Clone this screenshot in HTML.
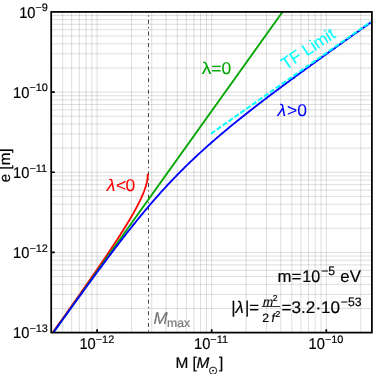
<!DOCTYPE html>
<html><head><meta charset="utf-8"><title>plot</title>
<style>html,body{margin:0;padding:0;background:#fff;}body{width:374px;height:374px;overflow:hidden;}svg{display:block;will-change:transform;}text{text-rendering:geometricPrecision;font-family:"Liberation Sans",sans-serif;}</style></head><body>
<svg width="374" height="374" viewBox="0 0 374 374">
<rect x="0" y="0" width="374" height="374" fill="#fff"/>
<defs><clipPath id="cp"><rect x="51.20" y="11.90" width="320.70" height="320.70"/></clipPath></defs>
<path d="M62.60 11.90V332.60M71.68 11.90V332.60M79.35 11.90V332.60M85.99 11.90V332.60M91.86 11.90V332.60M97.10 11.90V332.60M131.60 11.90V332.60M151.78 11.90V332.60M166.10 11.90V332.60M177.20 11.90V332.60M186.28 11.90V332.60M193.95 11.90V332.60M200.59 11.90V332.60M206.46 11.90V332.60M211.70 11.90V332.60M246.20 11.90V332.60M266.38 11.90V332.60M280.70 11.90V332.60M291.80 11.90V332.60M300.88 11.90V332.60M308.55 11.90V332.60M315.19 11.90V332.60M321.06 11.90V332.60M326.30 11.90V332.60M360.80 11.90V332.60" stroke="#000" stroke-opacity="0.17" stroke-width="0.80" fill="none"/>
<path d="M51.20 308.46H371.90M51.20 294.35H371.90M51.20 284.33H371.90M51.20 276.56H371.90M51.20 270.21H371.90M51.20 264.84H371.90M51.20 260.19H371.90M51.20 256.09H371.90M51.20 252.43H371.90M51.20 228.29H371.90M51.20 214.17H371.90M51.20 204.15H371.90M51.20 196.39H371.90M51.20 190.04H371.90M51.20 184.67H371.90M51.20 180.02H371.90M51.20 175.92H371.90M51.20 172.25H371.90M51.20 148.11H371.90M51.20 134.00H371.90M51.20 123.98H371.90M51.20 116.21H371.90M51.20 109.86H371.90M51.20 104.49H371.90M51.20 99.84H371.90M51.20 95.74H371.90M51.20 92.08H371.90M51.20 67.94H371.90M51.20 53.82H371.90M51.20 43.80H371.90M51.20 36.04H371.90M51.20 29.69H371.90M51.20 24.32H371.90M51.20 19.67H371.90M51.20 15.57H371.90" stroke="#000" stroke-opacity="0.17" stroke-width="0.80" fill="none"/>
<path d="M148.5 11.90V332.60" stroke="#444" stroke-width="1" stroke-dasharray="4 3.18 1.3 3.18" stroke-dashoffset="3.76" fill="none"/>
<g clip-path="url(#cp)" fill="none" stroke-width="1.85" stroke-linejoin="round">
<path d="M45.90 342.15L47.73 339.58L49.49 337.10L51.20 334.70L52.84 332.39L54.44 330.15L55.98 327.98L57.47 325.87L58.92 323.83L60.33 321.85L61.70 319.92L63.03 318.04L64.32 316.22L65.58 314.44L66.81 312.70L68.00 311.01L69.17 309.36L70.31 307.75L71.42 306.17L72.51 304.63L73.57 303.12L74.61 301.65L75.63 300.20L76.63 298.79L77.60 297.41L78.56 296.05L79.49 294.72L80.41 293.41L81.31 292.13L82.19 290.87L83.06 289.63L83.91 288.42L84.74 287.23L85.56 286.06L86.37 284.90L87.16 283.77L87.94 282.66L88.70 281.56L89.45 280.48L90.19 279.42L90.92 278.37L91.64 277.34L92.34 276.33L93.03 275.33L93.72 274.34L94.39 273.37L95.05 272.42L95.70 271.47L96.34 270.54L96.98 269.62L97.60 268.72L98.22 267.82L98.82 266.94L99.42 266.07L100.01 265.21L100.59 264.36L101.16 263.53L101.73 262.70L102.29 261.88L102.84 261.07L103.38 260.28L103.92 259.49L104.45 258.71L104.97 257.94L105.49 257.18L106.00 256.42L106.50 255.68L107.00 254.94L107.49 254.21L107.97 253.49L108.45 252.78L108.93 252.08L109.39 251.38L109.85 250.69L110.31 250.01L110.76 249.33L111.21 248.66L111.65 248.00L112.08 247.35L112.52 246.70L112.94 246.05L113.36 245.42L113.78 244.79L114.19 244.16L114.60 243.55L115.00 242.93L115.40 242.33L115.79 241.73L116.18 241.13L116.56 240.54L116.95 239.96L117.32 239.38L117.70 238.80L118.06 238.23L118.43 237.67L118.79 237.11L119.15 236.56L119.50 236.01L119.85 235.46L120.20 234.92L120.54 234.39L120.88 233.86L121.21 233.33L121.54 232.81L121.87 232.29L122.20 231.78L122.52 231.27L122.84 230.76L123.15 230.26L123.47 229.76L123.77 229.27L124.08 228.78L124.38 228.29L124.68 227.81L124.98 227.33L125.27 226.86L125.56 226.39L125.85 225.92L126.14 225.45L126.42 224.99L126.70 224.54L126.97 224.08L127.25 223.63L127.52 223.19L127.79 222.74L128.05 222.30L128.32 221.86L128.58 221.43L128.84 221.00L129.09 220.57L129.34 220.14L129.60 219.72L129.84 219.30L130.09 218.89L130.33 218.47L130.57 218.06L130.81 217.66L131.05 217.25L131.28 216.85L131.51 216.45L131.74 216.05L131.97 215.66L132.19 215.27L132.42 214.88L132.64 214.49L132.86 214.11L133.07 213.72L133.29 213.35L133.50 212.97L133.71 212.59L133.91 212.22L134.12 211.85L134.32 211.49L134.53 211.12L134.73 210.76L134.92 210.40L135.12 210.04L135.31 209.69L135.50 209.33L135.69 208.98L135.88 208.63L136.07 208.29L136.25 207.94L136.43 207.60L136.61 207.26L136.79 206.92L136.97 206.58L137.14 206.25L137.32 205.92L137.49 205.59L137.66 205.26L137.83 204.93L137.99 204.61L138.16 204.28L138.32 203.96L138.48 203.64L138.64 203.33L138.80 203.01L138.95 202.70L139.11 202.39L139.26 202.08L139.41 201.77L139.56 201.46L139.71 201.16L139.85 200.85L140.00 200.55L140.14 200.25L140.28 199.96L140.42 199.66L140.56 199.36L140.70 199.07L140.83 198.78L140.97 198.49L141.10 198.20L141.23 197.92L141.36 197.63L141.49 197.35L141.61 197.07L141.74 196.79L141.86 196.51L141.98 196.23L142.10 195.96L142.22 195.68L142.34 195.41L142.45 195.14L142.57 194.87L142.68 194.60L142.79 194.33L142.90 194.07L143.01 193.80L143.12 193.54L143.23 193.28L143.33 193.02L143.44 192.76L143.54 192.50L143.64 192.25L143.74 191.99L143.84 191.74L143.93 191.49L144.03 191.24L144.12 190.99L144.22 190.74L144.31 190.49L144.40 190.25L144.49 190.00L144.57 189.76L144.66 189.52L144.74 189.28L144.83 189.04L144.91 188.80L144.99 188.57L145.07 188.33L145.15 188.10L145.23 187.86L145.31 187.63L145.38 187.40L145.45 187.17L145.53 186.94L145.60 186.71L145.67 186.49L145.74 186.26L145.80 186.04L145.87 185.82L145.94 185.60L146.00 185.37L146.06 185.16L146.12 184.94L146.18 184.72L146.24 184.50L146.30 184.29L146.36 184.07L146.41 183.86L146.47 183.65L146.52 183.44L146.57 183.23L146.63 183.02L146.68 182.81L146.72 182.60L146.77 182.40L146.82 182.19L146.86 181.99L146.91 181.79L146.95 181.59L146.99 181.39L147.03 181.19L147.07 180.99L147.11 180.79L147.15 180.59L147.18 180.40L147.22 180.20L147.25 180.01L147.29 179.81L147.32 179.62L147.35 179.43L147.38 179.24L147.41 179.05L147.43 178.86L147.46 178.67L147.48 178.49L147.51 178.30L147.53 178.12L147.55 177.93L147.57 177.75L147.59 177.57L147.61 177.39L147.63 177.21L147.64 177.03L147.66 176.85L147.67 176.67L147.68 176.49L147.69 176.32L147.71 176.14L147.71 175.97L147.72 175.79L147.73 175.62L147.74 175.45L147.74 175.28L147.75 175.11L147.75 174.94L147.75 174.77L147.75 174.60" stroke="#ff0000" stroke-linecap="square"/>
<path d="M46.15 342.60L289.65 1.90" stroke="#00a600"/>
<path d="M46.20 342.46L47.30 340.92L48.40 339.39L49.51 337.85L50.61 336.32L51.71 334.79L52.81 333.25L53.92 331.72L55.02 330.19L56.12 328.66L57.22 327.13L58.33 325.59L59.43 324.06L60.53 322.53L61.63 321.00L62.73 319.48L63.84 317.95L64.94 316.42L66.04 314.89L67.14 313.37L68.25 311.84L69.35 310.32L70.45 308.79L71.55 307.27L72.66 305.75L73.76 304.23L74.86 302.70L75.96 301.18L77.07 299.67L78.17 298.15L79.27 296.63L80.37 295.12L81.47 293.60L82.58 292.09L83.68 290.58L84.78 289.07L85.88 287.56L86.99 286.05L88.09 284.54L89.19 283.04L90.29 281.53L91.40 280.03L92.50 278.53L93.60 277.03L94.70 275.54L95.81 274.04L96.91 272.55L98.01 271.06L99.11 269.57L100.21 268.08L101.32 266.60L102.42 265.12L103.52 263.64L104.62 262.16L105.73 260.69L106.83 259.22L107.93 257.75L109.03 256.28L110.14 254.82L111.24 253.36L112.34 251.90L113.44 250.45L114.54 249.00L115.65 247.55L116.75 246.11L117.85 244.67L118.95 243.23L120.06 241.80L121.16 240.37L122.26 238.95L123.36 237.53L124.47 236.11L125.57 234.70L126.67 233.30L127.77 231.89L128.88 230.50L129.98 229.10L131.08 227.72L132.18 226.33L133.28 224.95L134.39 223.58L135.49 222.21L136.59 220.85L137.69 219.50L138.80 218.14L139.90 216.80L141.00 215.46L142.10 214.13L143.21 212.80L144.31 211.48L145.41 210.16L146.51 208.85L147.61 207.55L148.72 206.25L149.82 204.96L150.92 203.67L152.02 202.39L153.13 201.12L154.23 199.85L155.33 198.59L156.43 197.34L157.54 196.09L158.64 194.85L159.74 193.62L160.84 192.39L161.94 191.17L163.05 189.96L164.15 188.75L165.25 187.55L166.35 186.36L167.46 185.17L168.56 183.99L169.66 182.81L170.76 181.65L171.87 180.49L172.97 179.33L174.07 178.18L175.17 177.04L176.28 175.90L177.38 174.77L178.48 173.65L179.58 172.53L180.68 171.42L181.79 170.31L182.89 169.22L183.99 168.12L185.09 167.03L186.20 165.95L187.30 164.88L188.40 163.81L189.50 162.74L190.61 161.68L191.71 160.63L192.81 159.58L193.91 158.54L195.01 157.50L196.12 156.47L197.22 155.44L198.32 154.41L199.42 153.40L200.53 152.38L201.63 151.38L202.73 150.37L203.83 149.37L204.94 148.38L206.04 147.39L207.14 146.40L208.24 145.42L209.35 144.45L210.45 143.47L211.55 142.51L212.65 141.54L213.75 140.58L214.86 139.63L215.96 138.67L217.06 137.72L218.16 136.78L219.27 135.84L220.37 134.90L221.47 133.96L222.57 133.03L223.68 132.11L224.78 131.18L225.88 130.26L226.98 129.34L228.08 128.43L229.19 127.52L230.29 126.61L231.39 125.70L232.49 124.80L233.60 123.90L234.70 123.00L235.80 122.10L236.90 121.21L238.01 120.32L239.11 119.44L240.21 118.55L241.31 117.67L242.42 116.79L243.52 115.91L244.62 115.04L245.72 114.16L246.82 113.29L247.93 112.42L249.03 111.56L250.13 110.69L251.23 109.83L252.34 108.97L253.44 108.11L254.54 107.26L255.64 106.40L256.75 105.55L257.85 104.70L258.95 103.85L260.05 103.00L261.16 102.15L262.26 101.31L263.36 100.47L264.46 99.62L265.56 98.78L266.67 97.95L267.77 97.11L268.87 96.27L269.97 95.44L271.08 94.61L272.18 93.78L273.28 92.95L274.38 92.12L275.49 91.29L276.59 90.46L277.69 89.64L278.79 88.81L279.89 87.99L281.00 87.17L282.10 86.35L283.20 85.53L284.30 84.71L285.41 83.89L286.51 83.08L287.61 82.26L288.71 81.45L289.82 80.63L290.92 79.82L292.02 79.01L293.12 78.20L294.23 77.39L295.33 76.58L296.43 75.77L297.53 74.97L298.63 74.16L299.74 73.35L300.84 72.55L301.94 71.74L303.04 70.94L304.15 70.14L305.25 69.33L306.35 68.53L307.45 67.73L308.56 66.93L309.66 66.13L310.76 65.33L311.86 64.54L312.96 63.74L314.07 62.94L315.17 62.14L316.27 61.35L317.37 60.55L318.48 59.76L319.58 58.96L320.68 58.17L321.78 57.38L322.89 56.58L323.99 55.79L325.09 55.00L326.19 54.21L327.30 53.42L328.40 52.62L329.50 51.83L330.60 51.04L331.70 50.25L332.81 49.47L333.91 48.68L335.01 47.89L336.11 47.10L337.22 46.31L338.32 45.53L339.42 44.74L340.52 43.95L341.63 43.17L342.73 42.38L343.83 41.60L344.93 40.81L346.03 40.03L347.14 39.24L348.24 38.46L349.34 37.67L350.44 36.89L351.55 36.11L352.65 35.32L353.75 34.54L354.85 33.76L355.96 32.97L357.06 32.19L358.16 31.41L359.26 30.63L360.37 29.85L361.47 29.07L362.57 28.28L363.67 27.50L364.77 26.72L365.88 25.94L366.98 25.16L368.08 24.38L369.18 23.60L370.29 22.82L371.39 22.04L372.49 21.26L373.59 20.49L374.70 19.71L375.80 18.93L376.90 18.15" stroke="#0000ff"/>
<path d="M210.90 133.70L374.90 18.96" stroke="#00ffff" stroke-width="2.0" stroke-dasharray="5.1 2.1"/>
</g>
<rect x="51.20" y="11.90" width="320.70" height="320.70" fill="none" stroke="#000" stroke-width="1.75"/>
<path d="M97.10 332.60V329.20M211.70 332.60V329.20M326.30 332.60V329.20M51.20 92.08H54.80M51.20 172.25H54.80M51.20 252.43H54.80" stroke="#000" stroke-width="1.7" fill="none"/>
<text transform="translate(35.47 17.70) scale(0.9400 1.0000)" font-size="15.60" fill="#000" stroke="#000" stroke-width="0.18" text-anchor="end">10</text><text transform="translate(35.47 11.20)" font-size="10.90" fill="#000" stroke="#000" stroke-width="0.18">−9</text>
<text transform="translate(29.41 97.88) scale(0.9400 1.0000)" font-size="15.60" fill="#000" stroke="#000" stroke-width="0.18" text-anchor="end">10</text><text transform="translate(29.41 91.38)" font-size="10.90" fill="#000" stroke="#000" stroke-width="0.18">−10</text>
<text transform="translate(29.41 178.05) scale(0.9400 1.0000)" font-size="15.60" fill="#000" stroke="#000" stroke-width="0.18" text-anchor="end">10</text><text transform="translate(29.41 171.55)" font-size="10.90" fill="#000" stroke="#000" stroke-width="0.18">−11</text>
<text transform="translate(29.41 258.23) scale(0.9400 1.0000)" font-size="15.60" fill="#000" stroke="#000" stroke-width="0.18" text-anchor="end">10</text><text transform="translate(29.41 251.73)" font-size="10.90" fill="#000" stroke="#000" stroke-width="0.18">−12</text>
<text transform="translate(29.41 338.40) scale(0.9400 1.0000)" font-size="15.60" fill="#000" stroke="#000" stroke-width="0.18" text-anchor="end">10</text><text transform="translate(29.41 331.90)" font-size="10.90" fill="#000" stroke="#000" stroke-width="0.18">−13</text>
<text transform="translate(95.71 349.40) scale(0.9400 1.0000)" font-size="15.60" fill="#000" stroke="#000" stroke-width="0.18" text-anchor="end">10</text><text transform="translate(95.71 342.90)" font-size="10.90" fill="#000" stroke="#000" stroke-width="0.18">−12</text>
<text transform="translate(210.31 349.40) scale(0.9400 1.0000)" font-size="15.60" fill="#000" stroke="#000" stroke-width="0.18" text-anchor="end">10</text><text transform="translate(210.31 342.90)" font-size="10.90" fill="#000" stroke="#000" stroke-width="0.18">−11</text>
<text transform="translate(324.91 349.40) scale(0.9400 1.0000)" font-size="15.60" fill="#000" stroke="#000" stroke-width="0.18" text-anchor="end">10</text><text transform="translate(324.91 342.90)" font-size="10.90" fill="#000" stroke="#000" stroke-width="0.18">−10</text>
<text transform="translate(10.20 182.20) rotate(-90.00)" font-size="15.20" fill="#000" stroke="#000" stroke-width="0.18">e [m]</text>
<text transform="translate(175.40 368.30)" font-size="15.40" fill="#000" stroke="#000" stroke-width="0.18">M [</text>
<text transform="translate(196.40 368.30)" font-size="15.40" fill="#000" stroke="#000" stroke-width="0.18" font-style="italic">M</text>
<text transform="translate(219.00 368.30)" font-size="15.40" fill="#000" stroke="#000" stroke-width="0.18">]</text>
<circle cx="213.1" cy="370.7" r="3.6" fill="none" stroke="#000" stroke-width="0.9"/><circle cx="213.1" cy="370.7" r="0.9" fill="#000"/>
<text transform="translate(201.80 74.10) scale(1.1300 1.0000)" font-size="17.00" fill="#00a600" stroke="#00a600" stroke-width="0.06">λ</text>
<text transform="translate(211.20 74.10) scale(1.0300 1.0000)" font-size="17.00" fill="#00a600" stroke="#00a600" stroke-width="0.06">=0</text>
<text transform="translate(277.40 115.80) scale(1.0300 1.0000)" font-size="17.00" fill="#0000ff" stroke="#0000ff" stroke-width="0.06" font-style="italic">λ</text>
<text transform="translate(287.00 115.80) scale(1.0300 1.0000)" font-size="17.00" fill="#0000ff" stroke="#0000ff" stroke-width="0.06">&gt;0</text>
<text transform="translate(106.70 190.60) scale(1.0300 1.0000)" font-size="17.00" fill="#ff0000" stroke="#ff0000" stroke-width="0.06" font-style="italic">λ</text>
<text transform="translate(116.00 190.60) scale(1.0300 1.0000)" font-size="17.00" fill="#ff0000" stroke="#ff0000" stroke-width="0.06">&lt;</text>
<text transform="translate(125.40 190.60) scale(1.0300 1.0000)" font-size="17.00" fill="#ff0000" stroke="#ff0000" stroke-width="0.06">0</text>
<text transform="translate(285.70 70.20) rotate(-33.20) scale(0.9900 1.0000)" font-size="17.00" fill="#00ffff" stroke="#00ffff" stroke-width="0.06">TF Limit</text>
<text transform="translate(153.40 324.10)" font-size="17.00" fill="#767676" stroke="#767676" stroke-width="0.18" font-style="italic">M</text>
<text transform="translate(167.00 327.40)" font-size="12.20" fill="#767676" stroke="#767676" stroke-width="0.18">max</text>
<text transform="translate(277.50 282.30)" font-size="16.80" fill="#000" stroke="#000" stroke-width="0.18">m=</text>
<text transform="translate(302.20 282.30) scale(0.9600 1.0000)" font-size="16.80" fill="#000" stroke="#000" stroke-width="0.18">10</text>
<text transform="translate(321.20 274.60)" font-size="12.20" fill="#000" stroke="#000" stroke-width="0.18">−5</text>
<text transform="translate(340.30 282.30)" font-size="16.80" fill="#000" stroke="#000" stroke-width="0.18">eV</text>
<text transform="translate(231.30 313.20)" font-size="16.80" fill="#000" stroke="#000" stroke-width="0.18">|</text>
<text transform="translate(235.60 313.20)" font-size="16.80" fill="#000" stroke="#000" stroke-width="0.18" font-style="italic">λ</text>
<text transform="translate(244.90 313.20)" font-size="16.80" fill="#000" stroke="#000" stroke-width="0.18">|=</text>
<text transform="translate(263.00 305.60)" font-size="12.20" fill="#000" stroke="#000" stroke-width="0.18" font-style="italic">m</text>
<text transform="translate(272.80 301.40)" font-size="8.60" fill="#000" stroke="#000" stroke-width="0.18">2</text>
<path d="M261.8 306.5H280.2" stroke="#000" stroke-width="0.8"/>
<text transform="translate(262.20 321.70)" font-size="12.20" fill="#000" stroke="#000" stroke-width="0.18">2</text>
<text transform="translate(271.60 321.70)" font-size="12.20" fill="#000" stroke="#000" stroke-width="0.18" font-style="italic">f</text>
<text transform="translate(275.60 317.40)" font-size="8.60" fill="#000" stroke="#000" stroke-width="0.18">2</text>
<text transform="translate(281.60 313.20) scale(1.0200 1.0000)" font-size="16.80" fill="#000" stroke="#000" stroke-width="0.18">=3.2·10</text>
<text transform="translate(340.80 305.60)" font-size="12.20" fill="#000" stroke="#000" stroke-width="0.18">−53</text>
</svg></body></html>
